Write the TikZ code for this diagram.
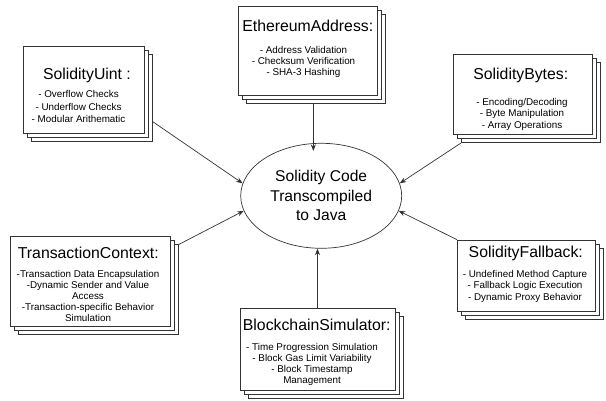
\documentclass[tikz,border=0pt]{standalone}
\usepackage{fontspec}
\setmainfont{Liberation Sans}
\usetikzlibrary{shapes.geometric,shadows,arrows.meta}
\begin{document}
\begin{tikzpicture}[x=1pt,y=-1pt,
  stackbox/.style={rectangle, draw=black!80, fill=white, line width=0.7pt, inner sep=0pt,
     copy shadow={shadow xshift=8pt, shadow yshift=-8pt, draw=black!80, fill=white, line width=0.7pt},
     copy shadow={shadow xshift=4pt, shadow yshift=-4pt, draw=black!80, fill=white, line width=0.7pt}},
  titletext/.style={inner sep=0pt, font=\fontsize{15.8}{19}\selectfont},
  itemtext/.style={inner sep=0pt, align=center, font=\fontsize{9.85}{#1}\selectfont},
  conn/.style={draw=black!80, line width=0.7pt, -{Stealth[length=6.5pt,width=5pt]}}
]
\useasboundingbox (0,0) rectangle (606,401);

% central ellipse
\node[ellipse, draw=black!80, line width=0.7pt, minimum width=161pt, minimum height=105pt,
      inner sep=0pt, align=center, font=\fontsize{15.6}{19.4}\selectfont]
      (ell) at (321.2,195.8) {Solidity Code\\Transcompiled\\to Java};

% SolidityUint
\node[stackbox, minimum width=121.5pt, minimum height=87.5pt] (uint) at (83.75,89.75) {};
\node[titletext] (uintT) at (87,75) {SolidityUint :};
\node[itemtext=12.5] (uintI) at (78.5,106.8) {- Overflow Checks\\- Underflow Checks\\- Modular Arithematic};

% EthereumAddress
\node[stackbox, minimum width=139.3pt, minimum height=89pt] (eth) at (307.65,50.5) {};
\node[titletext] (ethT) at (307.8,26) {EthereumAddress:};
\node[itemtext=10.7] (ethI) at (303.5,62) {- Address Validation\\- Checksum Verification\\- SHA-3 Hashing};

% SolidityBytes
\node[stackbox, minimum width=138.7pt, minimum height=80.7pt] (bytes) at (522.65,94.35) {};
\node[titletext] (bytesT) at (520.8,75) {SolidityBytes:};
\node[itemtext=11.7] (bytesI) at (522,114.3) {- Encoding/Decoding\\- Byte Manipulation\\- Array Operations};

% TransactionContext
\node[stackbox, minimum width=160.7pt, minimum height=90pt] (trans) at (90.35,281.7) {};
\node[titletext] (transT) at (88.3,253.3) {TransactionContext:};
\node[itemtext=11] (transI) at (88,296.1) {-Transaction Data Encapsulation\\-Dynamic Sender and Value\\Access\\-Transaction-specific Behavior\\Simulation};

% SolidityFallback
\node[stackbox, minimum width=137.7pt, minimum height=71.7pt] (fallback) at (526.15,275.85) {};
\node[titletext] (fallbackT) at (525.8,253.3) {SolidityFallback:};
\node[itemtext=11.3] (fallbackI) at (525,286.4) {- Undefined Method Capture\\- Fallback Logic Execution\\- Dynamic Proxy Behavior};

% BlockchainSimulator
\node[stackbox, minimum width=155pt, minimum height=81.7pt] (block) at (317.5,349.2) {};
\node[titletext] (blockT) at (316.7,325) {BlockchainSimulator:};
\node[itemtext=11.1] (blockI) at (312,364.6) {- Time Progression Simulation\\- Block Gas Limit Variability\\- Block Timestamp\\Management};

% connectors
\draw[conn] ([shift={(8,32)}]uint.east) -- (ell.171);
\draw[conn] ([shift={(5.7,8)}]eth.south) -- ([shift={(5.7,8)}]eth.south |- ell.north);
\draw[conn] ([shift={(8,8)}]bytes.south west) -- (ell.9.2);
\draw[conn] ([shift={(8,8)}]trans.north east) -- (ell.191.4);
\draw[conn] (fallback.north west) -- (ell.349.5);
\draw[conn] (block.north) -- (block.north |- ell.south);
\end{tikzpicture}
\end{document}
